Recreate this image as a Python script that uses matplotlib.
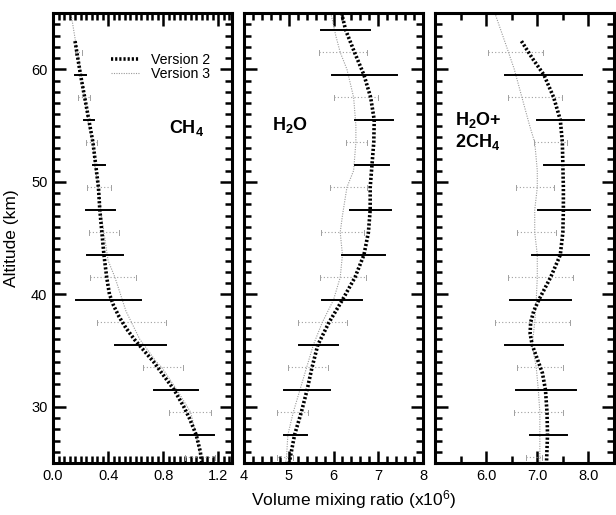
import matplotlib
matplotlib.use("Agg")
import matplotlib.pyplot as plt
from matplotlib.ticker import MultipleLocator

plt.rcParams['font.family'] = ['Liberation Sans', 'DejaVu Sans']
plt.rcParams['mathtext.fontset'] = 'custom'
plt.rcParams['mathtext.rm'] = 'Liberation Sans'
plt.rcParams['mathtext.it'] = 'Liberation Sans:italic'
plt.rcParams['mathtext.bf'] = 'Liberation Sans:bold'

# ---------------- data ----------------
# Version 2 curves (altitude km, value)
v2_ch4_alt = [62.5, 59.5, 57.5, 55.5, 53.5, 51.5, 49.5, 47.5, 45.5, 43.5, 41.5, 40.0, 39.0, 38.0, 37.0, 36.0, 35.0, 34.0, 33.0, 31.5, 30.0, 29.0, 27.5, 26.0, 25.0]
v2_ch4_val = [0.16, 0.20, 0.23, 0.26, 0.29, 0.31, 0.33, 0.34, 0.355, 0.37, 0.39, 0.41, 0.44, 0.48, 0.53, 0.59, 0.66, 0.73, 0.79, 0.88, 0.95, 0.99, 1.04, 1.07, 1.08]
v3_ch4_alt = [65.0, 62.0, 59.0, 57.5, 55.0, 53.5, 51.0, 49.5, 47.0, 45.5, 43.0, 41.5, 40.0, 38.5, 37.5, 36.0, 34.0, 33.5, 31.5, 29.5, 27.5, 25.5, 25.0]
v3_ch4_val = [0.13, 0.17, 0.21, 0.23, 0.26, 0.29, 0.31, 0.33, 0.35, 0.37, 0.40, 0.45, 0.49, 0.53, 0.57, 0.63, 0.75, 0.79, 0.90, 1.00, 1.04, 1.07, 1.08]

v2_h2o_alt = [65.0, 63.5, 61.5, 59.5, 57.5, 55.5, 53.5, 51.5, 49.5, 47.5, 45.5, 43.5, 41.5, 39.5, 37.5, 35.5, 33.5, 31.5, 29.5, 27.5, 25.0]
v2_h2o_val = [6.18, 6.27, 6.47, 6.68, 6.83, 6.91, 6.90, 6.86, 6.82, 6.82, 6.78, 6.68, 6.48, 6.20, 5.90, 5.65, 5.52, 5.41, 5.28, 5.13, 5.01]
v3_h2o_alt = [65.0, 63.0, 61.5, 60.0, 57.5, 55.0, 53.5, 51.0, 49.5, 47.0, 45.5, 43.5, 41.5, 39.5, 37.5, 35.5, 33.5, 31.5, 29.5, 27.5, 25.5, 25.0]
v3_h2o_val = [5.94, 6.05, 6.15, 6.30, 6.45, 6.50, 6.50, 6.45, 6.30, 6.20, 6.15, 6.20, 6.15, 6.00, 5.75, 5.55, 5.40, 5.25, 5.10, 4.98, 4.95, 4.93]

v2_sum_alt = [62.5, 61.0, 59.5, 57.5, 55.5, 53.5, 51.5, 49.5, 47.5, 45.5, 43.5, 41.5, 39.5, 38.5, 37.5, 36.5, 35.5, 34.0, 33.0, 31.5, 29.5, 27.5, 25.0]
v2_sum_val = [6.69, 6.90, 7.13, 7.32, 7.45, 7.49, 7.50, 7.51, 7.51, 7.50, 7.45, 7.26, 7.03, 6.93, 6.87, 6.86, 6.90, 7.02, 7.10, 7.16, 7.19, 7.20, 7.18]
v3_sum_alt = [65.0, 62.0, 60.0, 57.5, 55.0, 53.5, 51.0, 49.5, 47.5, 45.5, 43.5, 41.5, 39.5, 37.5, 35.5, 33.5, 31.5, 29.5, 27.5, 25.0]
v3_sum_val = [6.17, 6.40, 6.55, 6.70, 6.85, 6.95, 7.00, 7.00, 6.95, 6.95, 7.00, 7.00, 6.98, 6.95, 6.90, 6.98, 7.02, 7.05, 7.05, 7.05]

# Error bars: Version 2 (solid) and Version 3 (dotted)
v2_err_alt = [63.5, 59.5, 55.5, 51.5, 47.5, 43.5, 39.5, 35.5, 31.5, 27.5]
v2_ch4_lo = [None, 0.16, 0.225, 0.29, 0.24, 0.25, 0.17, 0.45, 0.73, 0.92]
v2_ch4_hi = [None, 0.24, 0.30, 0.38, 0.45, 0.51, 0.64, 0.82, 1.05, 1.17]
v2_h2o_lo = [5.72, 5.96, 6.47, 6.49, 6.37, 6.20, 5.74, 5.23, 4.89, 4.90]
v2_h2o_hi = [6.82, 7.43, 7.34, 7.23, 7.28, 7.15, 6.63, 6.11, 5.92, 5.41]
v2_sum_lo = [None, 6.37, 7.00, 7.13, 7.02, 6.90, 6.46, 6.37, 6.58, 6.85]
v2_sum_hi = [None, 7.88, 7.92, 7.92, 8.04, 8.01, 7.66, 7.50, 7.76, 7.58]

v3_err_alt = [61.5, 57.5, 53.5, 49.5, 45.5, 41.5, 37.5, 33.5, 29.5, 25.5]
v3_ch4_lo = [0.16, 0.18, 0.24, 0.25, 0.26, 0.27, 0.32, 0.65, 0.84, 0.96]
v3_ch4_hi = [0.21, 0.27, 0.32, 0.42, 0.48, 0.60, 0.82, 0.945, 1.15, 1.18]
v3_h2o_lo = [5.67, 6.02, 6.29, 5.93, 5.72, 5.70, 5.21, 4.99, 4.74, 4.74]
v3_h2o_hi = [6.75, 7.00, 6.75, 6.75, 6.68, 6.73, 6.31, 5.88, 5.44, 5.10]
v3_sum_lo = [6.03, 6.43, 6.93, 6.58, 6.60, 6.43, 6.17, 6.61, 6.54, 6.77]
v3_sum_hi = [7.11, 7.48, 7.58, 7.32, 7.37, 7.69, 7.64, 7.51, 7.50, 7.09]

panel_titles = ["CH$_\\mathbf{4}$", "H$_\\mathbf{2}$O", "H$_\\mathbf{2}$O+\n2CH$_\\mathbf{4}$"]
xlims = [(0.0, 1.3), (4.0, 8.0), (5.0, 8.5)]
xminor = [0.04, 0.2, 0.5]
xticklabels_fmt = ["{:.1f}", "{:.0f}", "{:.1f}"]
xtickvals = [[0.0, 0.4, 0.8, 1.2], [4, 5, 6, 7, 8], [6.0, 7.0, 8.0]]

panels = [
    (v2_ch4_alt, v2_ch4_val, v3_ch4_alt, v3_ch4_val, v2_ch4_lo, v2_ch4_hi, v3_ch4_lo, v3_ch4_hi),
    (v2_h2o_alt, v2_h2o_val, v3_h2o_alt, v3_h2o_val, v2_h2o_lo, v2_h2o_hi, v3_h2o_lo, v3_h2o_hi),
    (v2_sum_alt, v2_sum_val, v3_sum_alt, v3_sum_val, v2_sum_lo, v2_sum_hi, v3_sum_lo, v3_sum_hi),
]

W, H = 616, 515
fig = plt.figure(figsize=(W / 100, H / 100), dpi=100)
lefts = [53, 244, 435]
pw = 179
bottom_px, top_px = 463, 13

axes = []
for i, left in enumerate(lefts):
    ax = fig.add_axes([left / W, (H - bottom_px) / H, pw / W, (bottom_px - top_px) / H])
    axes.append(ax)
    a2, v2, a3, v3, lo2, hi2, lo3, hi3 = panels[i]
    # version 3 curve
    ax.plot(v3, a3, color='#9a9a9a', lw=0.8, ls=(0, (1, 1.2)), label='Version 3', zorder=2)
    # version 3 error bars
    for alt, lo, hi in zip(v3_err_alt, lo3, hi3):
        if lo is None:
            continue
        ax.plot([lo, hi], [alt, alt], color='#a0a0a0', lw=0.8, ls=(0, (1, 2)), zorder=2)
        ax.plot([lo, lo], [alt - 0.25, alt + 0.25], color='#a0a0a0', lw=0.7, zorder=2)
        ax.plot([hi, hi], [alt - 0.25, alt + 0.25], color='#a0a0a0', lw=0.7, zorder=2)
    # version 2 error bars
    for alt, lo, hi in zip(v2_err_alt, lo2, hi2):
        if lo is None:
            continue
        ax.plot([lo, hi], [alt, alt], color='black', lw=1.4, zorder=3)
    # version 2 curve
    ax.plot(v2, a2, color='black', lw=2.6, ls=(0, (0.6, 0.55)), label='Version 2', zorder=4)

    ax.set_xlim(*xlims[i])
    ax.set_ylim(25, 65)
    ax.set_xticks(xtickvals[i])
    ax.set_xticklabels([xticklabels_fmt[i].format(t) for t in xtickvals[i]])
    ax.xaxis.set_minor_locator(MultipleLocator(xminor[i]))
    ax.yaxis.set_major_locator(MultipleLocator(10))
    ax.yaxis.set_minor_locator(MultipleLocator(1))
    ax.tick_params(which='both', direction='in', top=True, right=True, width=1.8, labelsize=10.5, pad=4)
    ax.tick_params(which='major', length=9)
    ax.tick_params(which='minor', length=5)
    for sp in ax.spines.values():
        sp.set_linewidth(2.2)
    if i > 0:
        ax.set_yticklabels([])

axes[0].set_ylabel("Altitude (km)", fontsize=12.5)
axes[0].yaxis.set_label_coords((19 - 53) / pw, 0.5)

axes[0].text((187 - 53) / pw, (463 - 128) / 450, panel_titles[0], transform=axes[0].transAxes,
             ha='center', va='center', fontsize=13, fontweight='bold')
axes[1].text((272 - 244) / pw, (463 - 125) / 450, panel_titles[1], transform=axes[1].transAxes,
             ha='left', va='center', fontsize=13, fontweight='bold')
axes[2].text((455 - 435) / pw, (463 - 131) / 450, panel_titles[2], transform=axes[2].transAxes,
             ha='left', va='center', fontsize=13, fontweight='bold', linespacing=1.15)

handles, labels = axes[0].get_legend_handles_labels()
axes[0].legend(handles[::-1], labels[::-1], loc='upper right',
               bbox_to_anchor=((210 - 53) / pw, (463 - 53) / 450),
               frameon=False, fontsize=10.2, handlelength=2.0, handletextpad=0.8,
               labelspacing=0.0, borderpad=0, borderaxespad=0)

fig.text(354 / W, 1 - 500 / H, "Volume mixing ratio (x10$^6$)", ha='center', va='center', fontsize=12.5)

fig.savefig("out.png", dpi=100)
